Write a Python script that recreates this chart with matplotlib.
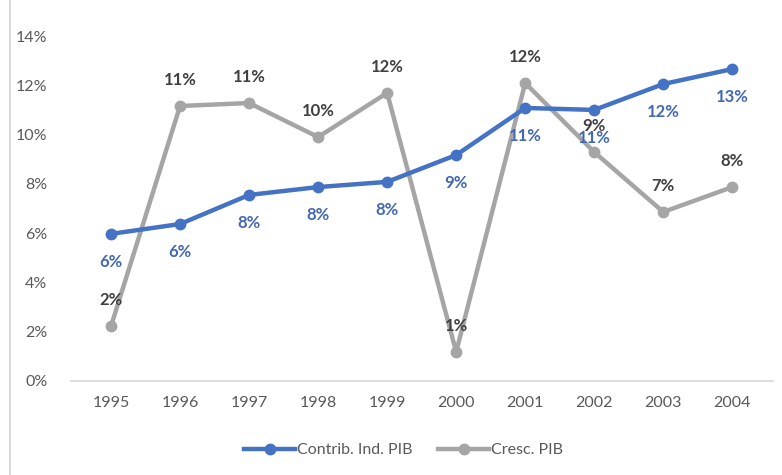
import matplotlib.pyplot as plt
from matplotlib.lines import Line2D
from matplotlib.ticker import FuncFormatter

years = ['1995', '1996', '1997', '1998', '1999', '2000', '2001', '2002', '2003', '2004']
contrib_ind = [5.97, 6.37, 7.55, 7.87, 8.08, 9.17, 11.08, 11.0, 12.05, 12.66]
cresc_pib = [2.23, 11.16, 11.28, 9.9, 11.69, 1.18, 12.09, 9.29, 6.86, 7.87]

blue = '#4472C4'
gray = '#A5A5A5'

plt.rcParams['font.family'] = ['Lato', 'DejaVu Sans']

fig = plt.figure(figsize=(7.82, 4.75), dpi=100)
ax = fig.add_axes([71 / 782, 1 - 381 / 475, (773 - 71) / 782, (381 - 36) / 475])

x = list(range(len(years)))
ax.plot(x, contrib_ind, color=blue, lw=3.2, marker='o', ms=7.5, label='Contrib. Ind. PIB', zorder=3)
ax.plot(x, cresc_pib, color=gray, lw=3.2, marker='o', ms=7.5, label='Cresc. PIB', zorder=2)

for xi, v in zip(x, contrib_ind):
    ax.annotate(f'{round(v):.0f}%', (xi, v), xytext=(0, -20), textcoords='offset points',
                ha='center', va='center', color='#4468B4', fontsize=12, fontweight='bold', zorder=5)
for xi, v in zip(x, cresc_pib):
    ax.annotate(f'{round(v):.0f}%', (xi, v), xytext=(0, 19), textcoords='offset points',
                ha='center', va='center', color='#404040', fontsize=12, fontweight='bold', zorder=5)

ax.set_ylim(0, 14)
ax.set_yticks(range(0, 15, 2))
ax.yaxis.set_major_formatter(FuncFormatter(lambda v, p: f'{v:.0f}%'))
ax.set_xlim(-0.58, 9.59)
ax.set_xticks(x)
ax.set_xticklabels(years)

for s in ['top', 'right', 'left']:
    ax.spines[s].set_visible(False)
ax.spines['bottom'].set_color('#D9D9D9')
ax.spines['bottom'].set_linewidth(1.2)
ax.tick_params(axis='both', length=0, colors='#595959', labelsize=11.5)
ax.tick_params(axis='x', pad=11)
ax.tick_params(axis='y', pad=17)

handles = [Line2D([0], [0], color=blue, lw=3.2, marker='o', ms=7.5),
           Line2D([0], [0], color=gray, lw=3.2, marker='o', ms=7.5)]
fig.legend(handles, ['Contrib. Ind. PIB', 'Cresc. PIB'], loc='center', bbox_to_anchor=(0.516, 1 - 450 / 475),
           ncol=2, frameon=False, fontsize=11.5, handlelength=3.2, handletextpad=0.1, columnspacing=1.6,
           labelcolor='#595959')

fig.add_artist(Line2D([10 / 782, 10 / 782], [0, 1], transform=fig.transFigure, color='#D9D9D9', lw=1.5))

fig.savefig('out.png', dpi=100)
